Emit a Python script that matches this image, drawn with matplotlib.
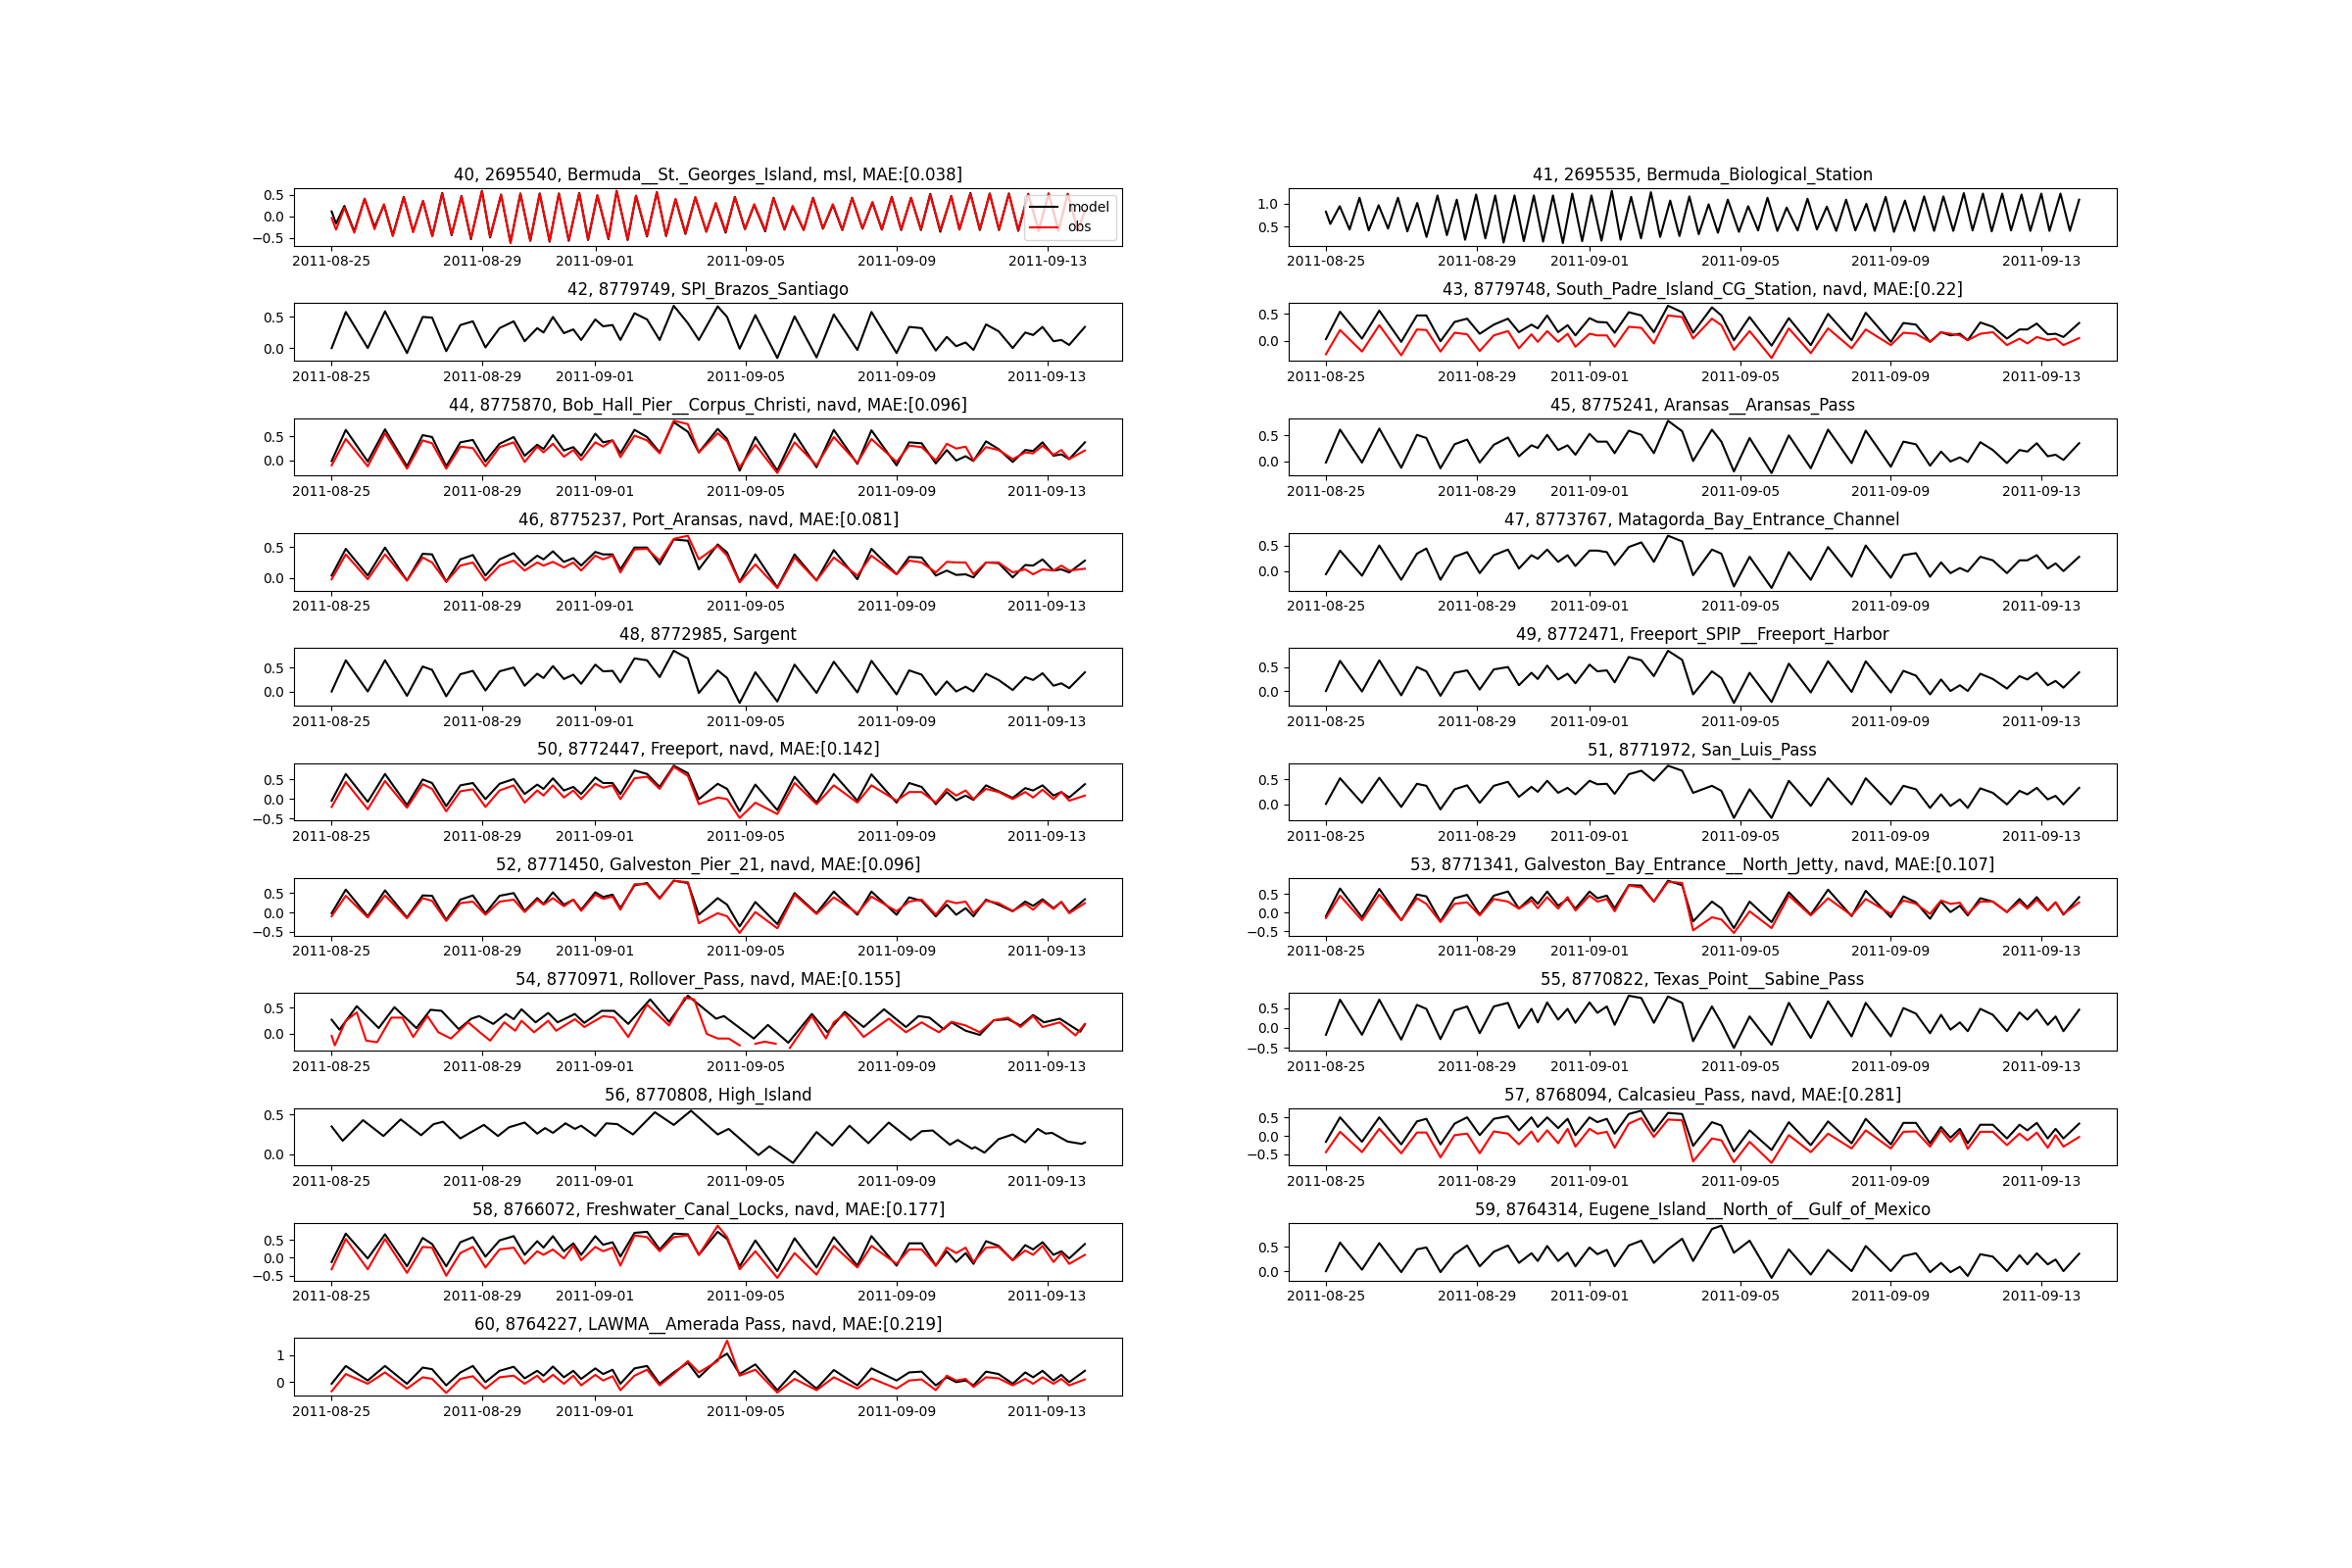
import numpy as np
import pandas as pd
import matplotlib
matplotlib.use("Agg")
import matplotlib.pyplot as plt
import matplotlib.dates as mdates

nan = np.nan
t0 = pd.Timestamp("2011-08-25")

titles = [
    "40, 2695540, Bermuda__St._Georges_Island, msl, MAE:[0.038]",
    "41, 2695535, Bermuda_Biological_Station",
    "42, 8779749, SPI_Brazos_Santiago",
    "43, 8779748, South_Padre_Island_CG_Station, navd, MAE:[0.22]",
    "44, 8775870, Bob_Hall_Pier__Corpus_Christi, navd, MAE:[0.096]",
    "45, 8775241, Aransas__Aransas_Pass",
    "46, 8775237, Port_Aransas, navd, MAE:[0.081]",
    "47, 8773767, Matagorda_Bay_Entrance_Channel",
    "48, 8772985, Sargent",
    "49, 8772471, Freeport_SPIP__Freeport_Harbor",
    "50, 8772447, Freeport, navd, MAE:[0.142]",
    "51, 8771972, San_Luis_Pass",
    "52, 8771450, Galveston_Pier_21, navd, MAE:[0.096]",
    "53, 8771341, Galveston_Bay_Entrance__North_Jetty, navd, MAE:[0.107]",
    "54, 8770971, Rollover_Pass, navd, MAE:[0.155]",
    "55, 8770822, Texas_Point__Sabine_Pass",
    "56, 8770808, High_Island",
    "57, 8768094, Calcasieu_Pass, navd, MAE:[0.281]",
    "58, 8766072, Freshwater_Canal_Locks, navd, MAE:[0.177]",
    "59, 8764314, Eugene_Island__North_of__Gulf_of_Mexico",
    "60, 8764227, LAWMA__Amerada Pass, navd, MAE:[0.219]",
]

# hours since 2011-08-25 00:00, Bermuda (semidiurnal highs/lows)
h40 = [0, 2.8, 8.1, 14.4, 21.0, 27.3, 33.3, 38.9, 45.9, 51.9,
       58.2, 64.1, 70.4, 76.4, 82.7, 88.7, 95.7, 100.9, 107.9, 113.9,
       120.2, 126.5, 132.5, 138.8, 144.7, 151.0, 157.7, 163.3, 169.2, 176.3,
       181.5, 188.5, 193.8, 200.8, 207.1, 213.0, 219.0, 225.3, 231.6, 238.6,
       244.6, 250.9, 256.8, 263.2, 269.1, 276.1, 281.4, 288.4, 293.6, 300.6,
       306.6, 312.9, 319.2, 325.2, 331.5, 338.1, 344.4, 350.4, 356.7, 362.7,
       369.0, 375.3, 381.2, 387.6, 394.6, 399.8, 406.8, 412.8, 419.1, 425.0,
       431.3, 437.3, 443.6, 450.3, 456.6, 462.9, 468.8, 475.2, 479.7]
m40 = [0.11, -0.17, 0.24, -0.35, 0.41, -0.25, 0.26, -0.44, 0.45, -0.35,
       0.35, -0.46, 0.54, -0.44, 0.47, -0.53, 0.59, -0.49, 0.50, -0.61,
       0.53, -0.57, 0.53, -0.59, 0.53, -0.57, 0.54, -0.55, 0.48, -0.53,
       0.59, -0.55, 0.47, -0.47, 0.56, -0.46, 0.39, -0.41, 0.44, -0.36,
       0.29, -0.38, 0.45, -0.30, 0.26, -0.35, 0.43, -0.31, 0.22, -0.32,
       0.43, -0.29, 0.26, -0.32, 0.43, -0.29, 0.32, -0.31, 0.45, -0.32,
       0.43, -0.32, 0.52, -0.36, 0.47, -0.31, 0.54, -0.32, 0.53, -0.32,
       0.53, -0.34, 0.52, -0.34, 0.53, -0.34, 0.52, -0.32, 0.13]
o40 = [-0.04, -0.31, 0.20, -0.38, 0.40, -0.30, 0.28, -0.46, 0.44, -0.37,
       0.36, -0.46, 0.53, -0.42, 0.46, -0.50, 0.58, -0.47, 0.50, -0.62,
       0.52, -0.56, 0.52, -0.57, 0.52, -0.55, 0.53, -0.53, 0.49, -0.51,
       0.58, -0.53, 0.48, -0.45, 0.55, -0.44, 0.40, -0.39, 0.44, -0.35,
       0.31, -0.35, 0.44, -0.29, 0.28, -0.32, 0.42, -0.30, 0.24, -0.31,
       0.42, -0.28, 0.28, -0.31, 0.42, -0.28, 0.33, -0.30, 0.44, -0.30,
       0.42, -0.30, 0.50, -0.32, 0.46, -0.30, 0.52, -0.30, 0.52, -0.30,
       0.52, -0.32, 0.51, -0.32, 0.52, -0.32, 0.51, -0.31, 0.10]

h41 = [0, 2.8, 8.8, 15.1, 21.4, 27.3, 33.6, 39.6, 45.9, 51.9,
       58.2, 64.1, 71.1, 77.1, 83.4, 88.7, 95.7, 101.6, 107.9, 113.2,
       120.2, 126.1, 132.5, 138.4, 144.7, 151.0, 157.0, 163.3, 169.2, 175.6,
       182.2, 187.8, 194.5, 200.8, 207.1, 213.0, 219.4, 225.3, 231.6, 237.6,
       243.9, 249.8, 256.1, 263.2, 269.1, 275.4, 281.4, 287.7, 293.6, 300.6,
       306.9, 312.9, 319.2, 325.2, 331.5, 337.4, 344.4, 349.7, 356.7, 362.0,
       369.0, 374.9, 381.2, 387.6, 393.5, 399.8, 406.5, 412.1, 418.7, 424.3,
       431.0, 436.6, 443.3, 448.9, 455.9, 461.1, 468.1, 474.1, 480.0]
m41 = [0.82, 0.56, 0.94, 0.44, 1.12, 0.42, 0.96, 0.46, 1.12, 0.40,
       1.01, 0.28, 1.17, 0.32, 1.08, 0.22, 1.19, 0.25, 1.17, 0.16,
       1.17, 0.19, 1.17, 0.18, 1.17, 0.15, 1.21, 0.19, 1.17, 0.20,
       1.27, 0.22, 1.14, 0.25, 1.24, 0.28, 1.06, 0.30, 1.15, 0.34,
       0.98, 0.37, 1.08, 0.39, 0.94, 0.42, 1.12, 0.41, 0.91, 0.42,
       1.10, 0.44, 0.93, 0.41, 1.08, 0.42, 0.99, 0.41, 1.14, 0.39,
       1.06, 0.41, 1.15, 0.41, 1.15, 0.41, 1.22, 0.42, 1.21, 0.40,
       1.21, 0.42, 1.19, 0.41, 1.21, 0.41, 1.21, 0.41, 1.08]

# Gulf stations: values read at these hours
gulf_h = [0, 9, 23, 34, 48, 58, 64, 73, 82, 90,
          98, 107, 116, 123, 131, 135, 141, 148, 154, 159,
          168, 173, 179, 184, 193, 201, 209, 218, 227, 234,
          246, 252, 260, 270, 284, 295, 309, 320, 335, 344,
          360, 368, 376, 385, 392, 398, 404, 409, 417, 425,
          434, 442, 447, 453, 460, 465, 470, 480]

m42 = [0.00, 0.58, 0.00, 0.59, -0.08, 0.50, 0.49, -0.05, 0.37, 0.43,
       0.01, 0.32, 0.43, 0.11, 0.32, 0.25, 0.50, 0.24, 0.30, 0.13,
       0.46, 0.35, 0.37, 0.13, 0.56, 0.46, 0.13, 0.68, 0.40, 0.13,
       0.67, 0.50, -0.01, 0.53, -0.16, 0.51, -0.15, 0.54, -0.03, 0.58,
       -0.08, 0.34, 0.32, -0.04, 0.18, 0.03, 0.09, -0.03, 0.38, 0.27,
       0.00, 0.25, 0.21, 0.34, 0.11, 0.13, 0.05, 0.34]

m43 = [0.03, 0.54, 0.04, 0.56, -0.02, 0.47, 0.47, -0.01, 0.35, 0.41,
       0.13, 0.30, 0.41, 0.16, 0.30, 0.23, 0.47, 0.16, 0.29, 0.10,
       0.42, 0.35, 0.34, 0.15, 0.53, 0.47, 0.16, 0.65, 0.53, 0.15,
       0.62, 0.47, 0.01, 0.44, -0.09, 0.42, -0.08, 0.50, 0.01, 0.52,
       -0.02, 0.33, 0.30, -0.02, 0.16, 0.10, 0.13, 0.01, 0.34, 0.26,
       0.04, 0.21, 0.21, 0.32, 0.12, 0.13, 0.07, 0.33]
o43 = [-0.25, 0.20, -0.20, 0.29, -0.27, 0.21, 0.20, -0.20, 0.15, 0.12,
       -0.19, 0.10, 0.18, -0.14, 0.12, -0.02, 0.18, -0.02, 0.13, -0.11,
       0.13, 0.10, 0.10, -0.11, 0.26, 0.24, -0.05, 0.47, 0.44, 0.04,
       0.41, 0.29, -0.17, 0.18, -0.32, 0.23, -0.23, 0.23, -0.14, 0.21,
       -0.08, 0.15, 0.13, -0.02, 0.16, 0.13, 0.10, 0.01, 0.13, 0.16,
       -0.08, 0.04, -0.05, 0.07, 0.01, 0.04, -0.08, 0.05]

m44 = [-0.01, 0.64, -0.02, 0.65, -0.12, 0.53, 0.49, -0.12, 0.38, 0.43,
       -0.02, 0.35, 0.49, 0.10, 0.33, 0.24, 0.53, 0.21, 0.28, 0.10,
       0.56, 0.38, 0.42, 0.15, 0.64, 0.49, 0.17, 0.80, 0.60, 0.17,
       0.66, 0.45, -0.21, 0.49, -0.21, 0.56, -0.14, 0.64, -0.07, 0.63,
       -0.10, 0.38, 0.36, -0.06, 0.22, 0.00, 0.09, -0.01, 0.40, 0.24,
       -0.03, 0.22, 0.20, 0.38, 0.10, 0.13, 0.03, 0.38]
o44 = [-0.10, 0.45, -0.12, 0.57, -0.17, 0.42, 0.36, -0.17, 0.29, 0.26,
       -0.12, 0.28, 0.38, -0.03, 0.29, 0.17, 0.35, 0.08, 0.22, 0.01,
       0.38, 0.29, 0.42, 0.07, 0.52, 0.42, 0.15, 0.83, 0.76, 0.17,
       0.57, 0.40, -0.14, 0.33, -0.26, 0.38, -0.10, 0.49, -0.05, 0.45,
       -0.03, 0.31, 0.28, 0.00, 0.35, 0.25, 0.29, 0.00, 0.28, 0.22,
       0.03, 0.17, 0.15, 0.31, 0.12, 0.22, 0.03, 0.21]

m45 = [-0.02, 0.61, -0.02, 0.63, -0.12, 0.51, 0.45, -0.13, 0.33, 0.42,
       -0.02, 0.32, 0.46, 0.10, 0.31, 0.26, 0.51, 0.22, 0.31, 0.13,
       0.53, 0.38, 0.38, 0.16, 0.59, 0.51, 0.16, 0.78, 0.58, 0.01,
       0.61, 0.38, -0.19, 0.45, -0.22, 0.50, -0.13, 0.61, -0.03, 0.59,
       -0.10, 0.38, 0.33, -0.08, 0.19, 0.00, 0.08, -0.01, 0.37, 0.22,
       -0.03, 0.22, 0.19, 0.35, 0.10, 0.13, 0.03, 0.35]

m46 = [0.04, 0.47, 0.04, 0.49, -0.04, 0.39, 0.38, -0.06, 0.30, 0.37,
       0.04, 0.30, 0.40, 0.20, 0.36, 0.30, 0.43, 0.26, 0.32, 0.20,
       0.42, 0.38, 0.38, 0.14, 0.49, 0.49, 0.22, 0.62, 0.60, 0.14,
       0.54, 0.41, -0.06, 0.38, -0.15, 0.38, -0.04, 0.45, -0.02, 0.47,
       0.06, 0.34, 0.33, 0.04, 0.12, 0.05, 0.06, 0.01, 0.25, 0.24,
       0.01, 0.21, 0.20, 0.30, 0.12, 0.14, 0.09, 0.28]
o46 = [-0.02, 0.38, -0.02, 0.38, -0.04, 0.33, 0.25, -0.06, 0.20, 0.25,
       -0.04, 0.20, 0.28, 0.12, 0.25, 0.20, 0.26, 0.17, 0.25, 0.12,
       0.36, 0.30, 0.36, 0.09, 0.46, 0.47, 0.28, 0.63, 0.68, 0.30,
       0.52, 0.36, -0.07, 0.22, -0.16, 0.33, -0.04, 0.33, 0.04, 0.36,
       0.06, 0.28, 0.25, 0.09, 0.26, 0.25, 0.25, 0.06, 0.25, 0.25,
       0.09, 0.14, 0.06, 0.14, 0.12, 0.20, 0.12, 0.15]

m47 = [-0.06, 0.40, -0.09, 0.50, -0.17, 0.34, 0.44, -0.17, 0.28, 0.37,
       -0.04, 0.31, 0.42, 0.05, 0.31, 0.24, 0.42, 0.18, 0.31, 0.10,
       0.40, 0.40, 0.37, 0.12, 0.47, 0.56, 0.18, 0.69, 0.58, -0.08,
       0.42, 0.34, -0.30, 0.28, -0.33, 0.37, -0.17, 0.47, -0.11, 0.50,
       -0.13, 0.31, 0.35, -0.11, 0.17, -0.04, 0.06, -0.01, 0.28, 0.21,
       -0.04, 0.21, 0.21, 0.31, 0.05, 0.15, 0.00, 0.28]

m48 = [0.00, 0.65, 0.00, 0.65, -0.09, 0.52, 0.45, -0.10, 0.36, 0.43,
       0.02, 0.42, 0.50, 0.12, 0.37, 0.28, 0.53, 0.26, 0.35, 0.16,
       0.56, 0.42, 0.43, 0.19, 0.69, 0.65, 0.30, 0.85, 0.69, -0.03,
       0.44, 0.28, -0.24, 0.40, -0.21, 0.56, -0.03, 0.62, -0.02, 0.64,
       -0.06, 0.44, 0.35, -0.07, 0.21, 0.00, 0.10, 0.00, 0.37, 0.24,
       0.03, 0.30, 0.24, 0.38, 0.12, 0.17, 0.07, 0.40]

m49 = [0.00, 0.63, -0.01, 0.64, -0.09, 0.50, 0.41, -0.10, 0.38, 0.43,
       0.03, 0.45, 0.50, 0.12, 0.38, 0.25, 0.53, 0.24, 0.36, 0.16,
       0.55, 0.41, 0.43, 0.18, 0.71, 0.64, 0.31, 0.84, 0.65, -0.07,
       0.41, 0.27, -0.25, 0.38, -0.23, 0.57, -0.03, 0.62, -0.02, 0.62,
       -0.03, 0.42, 0.32, -0.07, 0.24, 0.00, 0.12, 0.00, 0.36, 0.25,
       0.05, 0.31, 0.24, 0.38, 0.12, 0.21, 0.07, 0.39]

m50 = [-0.04, 0.64, -0.07, 0.64, -0.15, 0.50, 0.41, -0.18, 0.35, 0.41,
       0.00, 0.39, 0.51, 0.13, 0.37, 0.26, 0.53, 0.22, 0.31, 0.13,
       0.55, 0.41, 0.41, 0.13, 0.73, 0.64, 0.31, 0.85, 0.66, 0.00,
       0.39, 0.26, -0.31, 0.37, -0.28, 0.57, -0.09, 0.64, -0.04, 0.63,
       -0.09, 0.41, 0.31, -0.13, 0.18, -0.03, 0.09, -0.02, 0.35, 0.20,
       0.03, 0.28, 0.22, 0.35, 0.09, 0.18, 0.04, 0.38]
o50 = [-0.20, 0.44, -0.26, 0.46, -0.22, 0.38, 0.26, -0.31, 0.20, 0.25,
       -0.20, 0.22, 0.35, -0.09, 0.22, 0.09, 0.35, 0.04, 0.22, 0.00,
       0.39, 0.29, 0.35, 0.00, 0.53, 0.57, 0.26, 0.82, 0.59, -0.13,
       0.04, 0.00, -0.48, -0.09, -0.38, 0.41, -0.13, 0.35, -0.09, 0.35,
       -0.04, 0.18, 0.18, -0.09, 0.26, 0.09, 0.22, 0.00, 0.26, 0.18,
       0.00, 0.18, 0.04, 0.24, 0.00, 0.18, -0.04, 0.09]

m51 = [0.01, 0.52, 0.03, 0.53, -0.05, 0.41, 0.37, -0.10, 0.30, 0.38,
       0.03, 0.37, 0.45, 0.15, 0.35, 0.25, 0.47, 0.23, 0.33, 0.20,
       0.47, 0.40, 0.41, 0.21, 0.60, 0.67, 0.47, 0.77, 0.67, 0.23,
       0.37, 0.27, -0.27, 0.30, -0.27, 0.47, -0.03, 0.52, 0.00, 0.52,
       0.00, 0.37, 0.30, -0.07, 0.20, -0.03, 0.10, -0.07, 0.32, 0.23,
       0.00, 0.27, 0.20, 0.33, 0.10, 0.17, 0.00, 0.33]

m52 = [-0.02, 0.59, -0.10, 0.57, -0.13, 0.44, 0.43, -0.19, 0.33, 0.44,
       -0.02, 0.43, 0.50, 0.04, 0.37, 0.22, 0.52, 0.20, 0.33, 0.07,
       0.52, 0.40, 0.46, 0.11, 0.70, 0.76, 0.37, 0.82, 0.76, -0.06,
       0.37, 0.20, -0.36, 0.27, -0.30, 0.50, -0.02, 0.54, -0.06, 0.54,
       -0.06, 0.39, 0.30, -0.10, 0.20, -0.06, 0.11, -0.10, 0.33, 0.20,
       0.03, 0.28, 0.17, 0.34, 0.11, 0.27, 0.00, 0.34]
o52 = [-0.10, 0.43, -0.13, 0.44, -0.15, 0.37, 0.30, -0.22, 0.24, 0.28,
       -0.06, 0.28, 0.33, 0.01, 0.33, 0.20, 0.37, 0.16, 0.33, 0.04,
       0.46, 0.35, 0.41, 0.07, 0.73, 0.73, 0.35, 0.82, 0.78, -0.28,
       -0.02, -0.10, -0.53, 0.01, -0.41, 0.46, -0.04, 0.39, -0.02, 0.41,
       0.03, 0.28, 0.33, -0.06, 0.30, 0.24, 0.28, -0.02, 0.30, 0.24,
       0.04, 0.22, 0.07, 0.30, 0.09, 0.27, -0.02, 0.24]

m53 = [-0.09, 0.65, -0.12, 0.64, -0.20, 0.49, 0.44, -0.23, 0.39, 0.48,
       -0.05, 0.46, 0.57, 0.11, 0.42, 0.24, 0.57, 0.19, 0.37, 0.11,
       0.57, 0.39, 0.46, 0.12, 0.74, 0.73, 0.30, 0.86, 0.74, -0.23,
       0.30, 0.12, -0.41, 0.30, -0.25, 0.55, -0.05, 0.62, -0.09, 0.59,
       -0.12, 0.44, 0.28, -0.16, 0.30, 0.02, 0.19, -0.07, 0.39, 0.30,
       0.02, 0.37, 0.15, 0.42, 0.06, 0.28, -0.05, 0.42]
o53 = [-0.14, 0.46, -0.20, 0.49, -0.20, 0.39, 0.24, -0.25, 0.24, 0.28,
       -0.07, 0.37, 0.30, 0.11, 0.33, 0.12, 0.42, 0.11, 0.42, 0.06,
       0.46, 0.30, 0.37, 0.04, 0.73, 0.68, 0.30, 0.83, 0.80, -0.47,
       -0.12, -0.18, -0.54, 0.04, -0.41, 0.46, -0.07, 0.39, -0.07, 0.37,
       -0.03, 0.33, 0.24, -0.03, 0.33, 0.24, 0.27, -0.03, 0.30, 0.30,
       0.02, 0.30, 0.11, 0.35, 0.06, 0.28, -0.03, 0.28]

# Rollover Pass has its own timing
h54m = [0, 5, 16, 30, 40, 54, 63, 70, 81, 89,
        94, 103, 111, 116, 121, 130, 138, 144, 155, 161,
        172, 180, 189, 203, 215, 227, 245, 250, 269, 278,
        291, 306, 316, 327, 339, 352, 366, 374, 381, 390,
        395, 404, 413, 422, 431, 439, 447, 454, 464, 477, 480]
m54 = [0.27, 0.08, 0.53, 0.11, 0.51, 0.11, 0.46, 0.44, 0.09, 0.29,
       0.34, 0.19, 0.38, 0.28, 0.47, 0.22, 0.40, 0.22, 0.38, 0.21,
       0.44, 0.44, 0.19, 0.66, 0.23, 0.73, 0.29, 0.34, -0.09, 0.17,
       -0.17, 0.38, 0.03, 0.42, 0.13, 0.47, 0.13, 0.34, 0.31, 0.09,
       0.22, 0.06, -0.02, 0.26, 0.28, 0.16, 0.36, 0.22, 0.29, 0.04, 0.18]
h54o = [0, 2, 9, 16, 22, 29, 38, 45, 52, 61,
        68, 76, 87, 94, 101, 110, 117, 121, 129, 138,
        143, 155, 161, 173, 180, 189, 201, 215, 225, 231,
        239, 246, 253, 260, 265, 270, 276, 283, 288, 292,
        306, 315, 320, 327, 339, 355, 366, 376, 381, 387,
        395, 404, 413, 422, 431, 439, 447, 453, 464, 474, 480]
o54 = [-0.04, -0.22, 0.25, 0.41, -0.13, -0.16, 0.31, 0.31, -0.06, 0.34,
       0.03, -0.09, 0.22, 0.04, -0.13, 0.22, 0.06, 0.25, 0.03, 0.25,
       0.06, 0.28, 0.13, 0.34, 0.31, -0.06, 0.56, 0.16, 0.69, 0.66,
       0.00, -0.09, -0.09, -0.22, nan, -0.19, -0.15, -0.19, nan, -0.27,
       0.34, -0.09, 0.22, 0.38, -0.06, 0.29, 0.03, 0.22, 0.13, 0.03,
       0.23, 0.16, 0.03, 0.26, 0.31, 0.13, 0.34, 0.13, 0.22, -0.03, 0.19]

m55 = [-0.17, 0.71, -0.17, 0.71, -0.29, 0.58, 0.48, -0.28, 0.44, 0.54,
       -0.13, 0.54, 0.63, 0.00, 0.48, 0.14, 0.64, 0.21, 0.48, 0.13,
       0.64, 0.38, 0.54, 0.08, 0.81, 0.75, 0.13, 0.79, 0.63, -0.33,
       0.54, 0.13, -0.50, 0.29, -0.42, 0.63, -0.25, 0.67, -0.21, 0.63,
       -0.21, 0.50, 0.36, -0.13, 0.33, -0.04, 0.14, -0.08, 0.48, 0.33,
       -0.08, 0.39, 0.21, 0.46, 0.08, 0.29, -0.08, 0.46]

# High Island has its own timing
h56 = [0, 7, 20, 33, 44, 57, 65, 71, 82, 89,
       97, 106, 113, 123, 131, 136, 141, 149, 155, 159,
       168, 175, 182, 192, 206, 218, 229, 246, 253, 272,
       279, 294, 309, 319, 330, 342, 355, 369, 376, 383,
       394, 399, 408, 410, 416, 425, 434, 442, 450, 455,
       459, 469, 478, 480]
m56 = [0.35, 0.17, 0.43, 0.23, 0.44, 0.24, 0.38, 0.41, 0.20, 0.28,
       0.37, 0.23, 0.34, 0.40, 0.26, 0.33, 0.27, 0.39, 0.32, 0.36,
       0.23, 0.39, 0.38, 0.25, 0.53, 0.37, 0.55, 0.25, 0.32, -0.01,
       0.10, -0.11, 0.28, 0.11, 0.36, 0.14, 0.40, 0.18, 0.29, 0.30,
       0.12, 0.18, 0.07, 0.09, 0.02, 0.19, 0.25, 0.15, 0.32, 0.26,
       0.27, 0.16, 0.13, 0.15]

m57 = [-0.16, 0.50, -0.16, 0.50, -0.23, 0.39, 0.46, -0.23, 0.33, 0.50,
       0.02, 0.46, 0.53, 0.15, 0.50, 0.24, 0.50, 0.21, 0.46, 0.02,
       0.50, 0.37, 0.46, 0.06, 0.59, 0.68, 0.12, 0.62, 0.59, -0.27,
       0.37, 0.28, -0.42, 0.15, -0.38, 0.37, -0.25, 0.39, -0.20, 0.46,
       -0.23, 0.35, 0.35, -0.20, 0.24, -0.05, 0.19, -0.20, 0.30, 0.30,
       -0.07, 0.30, 0.15, 0.35, -0.07, 0.19, -0.07, 0.33]
o57 = [-0.44, 0.11, -0.44, 0.19, -0.47, 0.09, 0.09, -0.58, 0.02, 0.06,
       -0.47, 0.12, 0.06, -0.23, 0.12, -0.16, 0.15, -0.20, 0.19, -0.29,
       0.19, 0.06, 0.11, -0.32, 0.33, 0.48, -0.03, 0.44, 0.42, -0.69,
       -0.07, -0.12, -0.71, -0.16, -0.73, 0.02, -0.44, 0.06, -0.34, 0.15,
       -0.34, 0.11, 0.12, -0.29, 0.15, -0.16, 0.11, -0.35, 0.11, 0.11,
       -0.25, 0.06, -0.12, 0.09, -0.32, 0.02, -0.29, -0.03]

m58 = [-0.12, 0.67, -0.02, 0.65, -0.24, 0.55, 0.38, -0.24, 0.43, 0.57,
       0.03, 0.48, 0.60, 0.08, 0.46, 0.28, 0.60, 0.18, 0.40, 0.08,
       0.60, 0.36, 0.43, 0.03, 0.69, 0.72, 0.23, 0.67, 0.65, 0.08,
       0.72, 0.52, -0.24, 0.48, -0.37, 0.54, -0.27, 0.57, -0.22, 0.60,
       -0.22, 0.40, 0.40, -0.22, 0.18, -0.12, 0.13, -0.17, 0.46, 0.33,
       -0.07, 0.35, 0.23, 0.43, 0.08, 0.18, -0.02, 0.38]
o58 = [-0.32, 0.52, -0.32, 0.52, -0.42, 0.30, 0.28, -0.50, 0.13, 0.30,
       -0.27, 0.23, 0.28, -0.17, 0.18, 0.08, 0.23, -0.02, 0.33, -0.07,
       0.30, 0.18, 0.28, -0.22, 0.62, 0.57, 0.18, 0.57, 0.62, 0.08,
       0.89, 0.57, -0.32, 0.18, -0.56, 0.13, -0.47, 0.33, -0.27, 0.33,
       -0.17, 0.23, 0.23, -0.22, 0.28, 0.13, 0.28, -0.12, 0.28, 0.30,
       -0.07, 0.20, 0.08, 0.33, -0.12, 0.13, -0.17, 0.08]

m59 = [0.00, 0.59, 0.03, 0.58, -0.02, 0.45, 0.49, -0.02, 0.35, 0.53,
       0.10, 0.40, 0.53, 0.17, 0.37, 0.21, 0.52, 0.21, 0.38, 0.10,
       0.49, 0.35, 0.44, 0.10, 0.53, 0.63, 0.17, 0.45, 0.67, 0.21,
       0.87, 0.94, 0.38, 0.63, -0.14, 0.45, -0.07, 0.44, 0.00, 0.52,
       0.00, 0.31, 0.37, -0.02, 0.17, -0.02, 0.09, -0.10, 0.35, 0.30,
       0.00, 0.33, 0.14, 0.37, 0.14, 0.24, 0.00, 0.36]

m60 = [-0.06, 0.60, 0.06, 0.60, -0.06, 0.54, 0.48, -0.12, 0.36, 0.60,
       0.00, 0.42, 0.57, 0.14, 0.42, 0.24, 0.58, 0.18, 0.42, 0.12,
       0.51, 0.30, 0.46, -0.06, 0.51, 0.60, -0.06, 0.36, 0.72, 0.18,
       0.84, 1.06, 0.30, 0.66, -0.30, 0.42, -0.24, 0.45, -0.12, 0.51,
       0.06, 0.36, 0.39, -0.12, 0.18, 0.00, 0.06, -0.12, 0.39, 0.30,
       -0.06, 0.36, 0.18, 0.42, 0.06, 0.27, 0.00, 0.42]
o60 = [-0.34, 0.30, -0.06, 0.36, -0.24, 0.18, 0.12, -0.40, 0.12, 0.22,
       -0.24, 0.18, 0.24, -0.06, 0.24, 0.00, 0.27, -0.06, 0.24, -0.12,
       0.27, 0.06, 0.22, -0.30, 0.24, 0.46, -0.12, 0.30, 0.78, 0.36,
       0.78, 1.54, 0.24, 0.46, -0.39, 0.12, -0.30, 0.18, -0.24, 0.14,
       -0.24, 0.06, 0.10, -0.30, 0.24, 0.06, 0.12, -0.18, 0.18, 0.14,
       -0.12, 0.12, -0.06, 0.18, -0.06, 0.12, -0.12, 0.10]

# (model hours, model, obs hours, obs) per panel
panels = [
    (h40, m40, h40, o40), (h41, m41, None, None),
    (gulf_h, m42, None, None), (gulf_h, m43, gulf_h, o43),
    (gulf_h, m44, gulf_h, o44), (gulf_h, m45, None, None),
    (gulf_h, m46, gulf_h, o46), (gulf_h, m47, None, None),
    (gulf_h, m48, None, None), (gulf_h, m49, None, None),
    (gulf_h, m50, gulf_h, o50), (gulf_h, m51, None, None),
    (gulf_h, m52, gulf_h, o52), (gulf_h, m53, gulf_h, o53),
    (h54m, m54, h54o, o54), (gulf_h, m55, None, None),
    (h56, m56, None, None), (gulf_h, m57, gulf_h, o57),
    (gulf_h, m58, gulf_h, o58), (gulf_h, m59, None, None),
    (gulf_h, m60, gulf_h, o60),
]


def to_time(h):
    return t0 + pd.to_timedelta(np.array(h, dtype=float), unit="h")


fig = plt.figure(figsize=(24, 16), dpi=100)
for i, (hm, mv, ho, ov) in enumerate(panels):
    ax = fig.add_subplot(11, 2, i + 1)
    ax.plot(to_time(hm), mv, color="black", label="model")
    if ov is not None:
        ax.plot(to_time(ho), ov, color="red", label="obs")
    ax.set_title(titles[i])
    ax.xaxis.set_major_locator(mdates.DayLocator(bymonthday=[1, 5, 9, 13, 17, 21, 25, 29]))
    ax.xaxis.set_major_formatter(mdates.DateFormatter("%Y-%m-%d"))
    if i == 0:
        ax.legend(loc="upper right")

plt.subplots_adjust(left=0.125, right=0.9, top=0.88, bottom=0.11, hspace=1.0, wspace=0.2)
plt.savefig("out.png")
